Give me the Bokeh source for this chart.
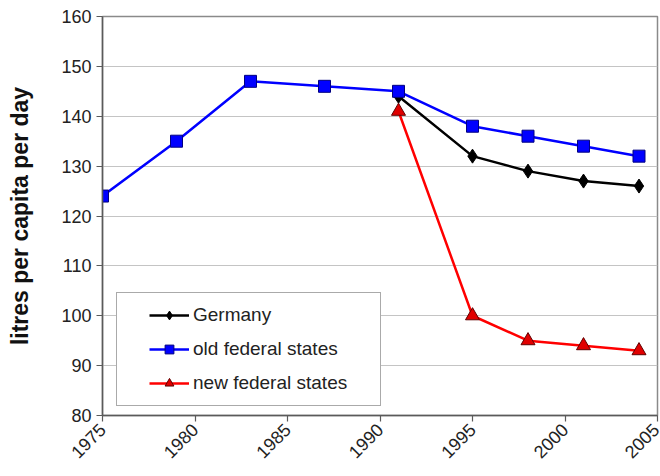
from bokeh.plotting import figure
from bokeh.models import Legend, LegendItem, FixedTicker
from bokeh.embed import file_html
from bokeh.resources import INLINE
from math import pi

# Data
old_years = [1975, 1979, 1983, 1987, 1991, 1995, 1998, 2001, 2004]
old_vals = [124, 135, 147, 146, 145, 138, 136, 134, 132]
ger_years = [1991, 1995, 1998, 2001, 2004]
ger_vals = [144, 132, 129, 127, 126]
new_years = [1991, 1995, 1998, 2001, 2004]
new_vals = [141, 100, 95, 94, 93]
x_ticks = [1975, 1980, 1985, 1990, 1995, 2000, 2005]
y_ticks = [80, 90, 100, 110, 120, 130, 140, 150, 160]

FONT = "Liberation Sans"

p = figure(width=660, height=476, output_backend="svg", toolbar_location=None,
           x_range=(1975, 2005), y_range=(80, 160),
           min_border_left=102, min_border_right=3, min_border_top=16, min_border_bottom=61)
p.outline_line_color = "#8a8a8a"
p.outline_line_width = 1.5
p.xgrid.grid_line_color = None
p.ygrid.grid_line_color = "#c4c4c4"
p.ygrid.grid_line_width = 1.2

p.xaxis.ticker = FixedTicker(ticks=x_ticks)
p.yaxis.ticker = FixedTicker(ticks=y_ticks)
for ax in (p.xaxis, p.yaxis):
    ax.axis_line_color = "#5a5a5a"
    ax.axis_line_width = 1.5
    ax.major_tick_line_color = "#5a5a5a"
    ax.major_tick_line_width = 1.2
    ax.major_tick_out = 6
    ax.major_tick_in = 0
    ax.minor_tick_line_color = None
    ax.major_label_text_font = FONT
    ax.major_label_text_font_size = "18px"
    ax.major_label_text_color = "#222222"
p.xaxis.major_label_orientation = pi / 4
p.yaxis.axis_label = "litres per capita per day"
p.yaxis.axis_label_text_font = FONT
p.yaxis.axis_label_text_font_style = "bold"
p.yaxis.axis_label_text_font_size = "23px"
p.yaxis.axis_label_text_color = "#111111"
p.yaxis.axis_label_standoff = 25

gl = p.line(ger_years, ger_vals, line_color="black", line_width=2.5)
gs = p.scatter(ger_years, ger_vals, marker="diamond", size=14, fill_color="black", line_color="black")
ol = p.line(old_years, old_vals, line_color="#0000ff", line_width=2.5)
os_ = p.scatter(old_years, old_vals, marker="square", size=12, fill_color="#0000ff", line_color="#000080")
nl = p.line(new_years, new_vals, line_color="#ff0000", line_width=2.5)
ns = p.scatter(new_years, new_vals, marker="triangle", size=14, fill_color="#e00000", line_color="#600000")

legend = Legend(items=[
    LegendItem(label="Germany", renderers=[gl, gs]),
    LegendItem(label="old federal states", renderers=[ol, os_]),
    LegendItem(label="new federal states", renderers=[nl, ns]),
], location=(14, 9))
legend.title = " "
legend.title_location = "left"
legend.title_text_font_size = "10px"
legend.title_standoff = 10
legend.border_line_color = "#555555"
legend.border_line_width = 1.5
legend.background_fill_alpha = 1
legend.label_text_font = FONT
legend.label_text_font_size = "19px"
legend.label_text_color = "#222222"
legend.glyph_width = 40
legend.glyph_height = 22
legend.label_height = 22
legend.spacing = 12
legend.padding = 11
legend.label_standoff = 4
legend.label_width = 176
legend.margin = 0
p.add_layout(legend, "center")

open("out.html", "w").write(file_html(p, INLINE))
